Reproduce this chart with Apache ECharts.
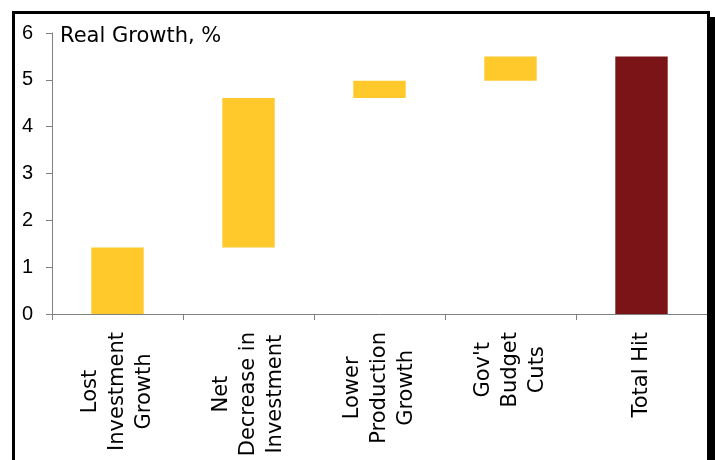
<!DOCTYPE html>
<html>
<head>
<meta charset="utf-8">
<script src="https://cdn.jsdelivr.net/npm/echarts@6/dist/echarts.min.js"></script>
<style>
  html, body { margin: 0; padding: 0; background: #ffffff; }
  #chart { width: 715px; height: 460px; }
</style>
</head>
<body>
<div id="chart"></div>
<script>
// Contributions to the real growth hit, % points
const categories = [
  'Lost\nInvestment\nGrowth',
  'Net\nDecrease in\nInvestment',
  'Lower\nProduction\nGrowth',
  "Gov't\nBudget\nCuts",
  'Total Hit'
];
const stepValues = [1.42, 3.19, 0.37, 0.52];
const totalHit = 5.5;
const yTicks = [0, 1, 2, 3, 4, 5, 6];

const stepColor = '#FFC92B';
const totalColor = '#7B1416';

// Invisible base for each floating step, then the total from zero
const bases = [];
let running = 0;
stepValues.forEach(v => { bases.push(running); running += v; });
bases.push(0);
const heights = stepValues.concat([totalHit]);

const chart = echarts.init(document.getElementById('chart'), null, { renderer: 'canvas' });

const labelFont = 'DejaVu Sans';

chart.setOption({
  animation: false,
  backgroundColor: '#ffffff',
  grid: { left: 52, right: 8, top: 33, bottom: 146, containLabel: false },
  graphic: [
    {
      type: 'rect', z: 100, silent: true,
      shape: { x: 707, y: 17, width: 8, height: 443 },
      style: { fill: '#000000' }
    },
    {
      type: 'rect', z: 100, silent: true,
      shape: { x: 13.5, y: 12.5, width: 695, height: 470 },
      style: { fill: 'none', stroke: '#000000', lineWidth: 3 }
    },
    {
      type: 'text', z: 100, silent: true,
      style: {
        x: 60, y: 37, text: 'Real Growth, %',
        fontFamily: 'DejaVu Sans', fontSize: 21,
        fill: '#000000', verticalAlign: 'middle', align: 'left'
      }
    }
  ],
  xAxis: {
    type: 'category',
    data: categories,
    axisLine: { lineStyle: { color: '#808080', width: 1 } },
    axisTick: { show: true, length: 6, lineStyle: { color: '#808080' } },
    axisLabel: {
      interval: 0,
      rotate: 90,
      margin: 18,
      color: '#000000',
      formatter: function (v) {
        return v.split('\n').map(l => '{c|' + l + '}').join('\n');
      },
      rich: {
        c: {
          align: 'center',
          fontFamily: labelFont,
          fontSize: 21,
          lineHeight: 27,
          color: '#000000'
        }
      }
    }
  },
  yAxis: {
    type: 'value',
    min: yTicks[0],
    max: yTicks[yTicks.length - 1],
    interval: 1,
    axisLine: { show: true, lineStyle: { color: '#808080', width: 1 } },
    axisTick: { show: true, length: 6, lineStyle: { color: '#808080' } },
    splitLine: { show: false },
    axisLabel: {
      margin: 19,
      color: '#000000',
      fontFamily: 'Liberation Sans',
      fontSize: 20
    }
  },
  series: [
    {
      name: 'base',
      type: 'bar',
      stack: 'w',
      barWidth: '40%',
      silent: true,
      itemStyle: { color: 'transparent' },
      data: bases
    },
    {
      name: 'growth',
      type: 'bar',
      stack: 'w',
      barWidth: '40%',
      data: heights.map((v, i) => ({
        value: v,
        itemStyle: { color: i === heights.length - 1 ? totalColor : stepColor }
      }))
    }
  ]
});
</script>
</body>
</html>
